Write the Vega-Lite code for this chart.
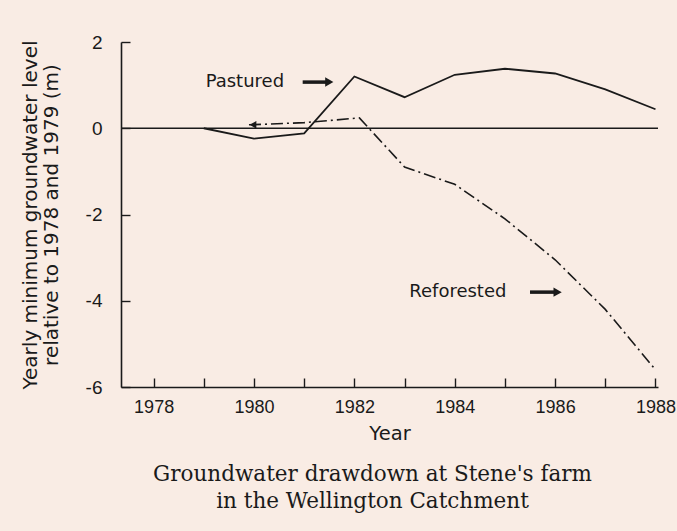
{
  "$schema": "https://vega.github.io/schema/vega-lite/v6.json",
  "autosize": {"type": "none"},
  "width": 537,
  "height": 345,
  "padding": {"left": 121, "top": 42, "right": 19, "bottom": 144},
  "background": "#f9ece4",
  "config": {
    "view": {"stroke": null},
    "font": "DejaVu Sans",
    "axis": {
      "domainColor": "#1a1a1a",
      "tickColor": "#1a1a1a",
      "labelColor": "#1a1a1a",
      "titleColor": "#1a1a1a",
      "labelFont": "Liberation Sans",
      "titleFont": "DejaVu Sans",
      "labelFontSize": 18,
      "titleFontSize": 19.5,
      "titleFontWeight": "normal",
      "grid": false,
      "domainWidth": 1.6,
      "tickWidth": 1.4
    }
  },
  "title": {
    "text": ["Groundwater drawdown at Stene's farm", "in the Wellington Catchment"],
    "orient": "bottom",
    "anchor": "middle",
    "font": "DejaVu Serif",
    "fontSize": 21.5,
    "fontWeight": "normal",
    "color": "#1a1a1a",
    "offset": 21,
    "lineHeight": 27,
    "dx": -17
  },
  "datasets": {
    "series": [
      {"year": 1979, "value": 0, "cover": "Pastured"},
      {"year": 1980, "value": -0.24, "cover": "Pastured"},
      {"year": 1981, "value": -0.12, "cover": "Pastured"},
      {"year": 1982, "value": 1.2, "cover": "Pastured"},
      {"year": 1983, "value": 0.72, "cover": "Pastured"},
      {"year": 1984, "value": 1.24, "cover": "Pastured"},
      {"year": 1985, "value": 1.38, "cover": "Pastured"},
      {"year": 1986, "value": 1.27, "cover": "Pastured"},
      {"year": 1987, "value": 0.9, "cover": "Pastured"},
      {"year": 1988, "value": 0.44, "cover": "Pastured"},
      {"year": 1979.9, "value": 0.08, "cover": "Reforested"},
      {"year": 1981, "value": 0.13, "cover": "Reforested"},
      {"year": 1982.1, "value": 0.24, "cover": "Reforested"},
      {"year": 1983, "value": -0.9, "cover": "Reforested"},
      {"year": 1984, "value": -1.3, "cover": "Reforested"},
      {"year": 1985, "value": -2.1, "cover": "Reforested"},
      {"year": 1986, "value": -3.05, "cover": "Reforested"},
      {"year": 1987, "value": -4.2, "cover": "Reforested"},
      {"year": 1988, "value": -5.6, "cover": "Reforested"}
    ],
    "labels": [
      {"label": "Pastured", "x": 1980.6, "y": 1.07, "ax": 1980.97, "ax2": 1981.5},
      {"label": "Reforested", "x": 1985.03, "y": -3.8, "ax": 1985.5, "ax2": 1986.05}
    ],
    "zero": [{"value": 0}],
    "start": [{"year": 1979.98, "value": 0.08}]
  },
  "encoding": {
    "x": {
      "field": "year", "type": "quantitative",
      "scale": {"domain": [1977.35, 1988.05], "nice": false, "zero": false},
      "axis": {
        "title": "Year",
        "values": [1978, 1979, 1980, 1981, 1982, 1983, 1984, 1985, 1986, 1987, 1988],
        "format": "d",
        "labelExpr": "datum.value % 2 == 0 ? '' + datum.value : ''",
        "tickSize": -9,
        "labelPadding": 20,
        "titlePadding": 8,
        "labelFlush": false,
        "labelOverlap": false
      }
    },
    "y": {
      "field": "value", "type": "quantitative",
      "scale": {"domain": [-6, 2], "nice": false},
      "axis": {
        "title": ["Yearly minimum groundwater level", "relative to 1978 and 1979 (m)"],
        "values": [-6, -4, -2, 0, 2],
        "labelExpr": "'' + datum.value",
        "labelFontSize": 19,
        "tickSize": -9,
        "labelPadding": 28,
        "titlePadding": 24,
        "titleFontSize": 20,
        "titleLineHeight": 21,
        "labelFlush": false
      }
    }
  },
  "layer": [
    {
      "data": {"name": "zero"},
      "mark": {"type": "rule", "color": "#1a1a1a", "strokeWidth": 1.4},
      "encoding": {"y": {"field": "value", "type": "quantitative"}, "x": null}
    },
    {
      "data": {"name": "series"},
      "transform": [{"filter": "datum.cover == 'Pastured'"}],
      "mark": {"type": "line", "color": "#1a1a1a", "strokeWidth": 1.8}
    },
    {
      "data": {"name": "series"},
      "transform": [{"filter": "datum.cover == 'Reforested'"}],
      "mark": {"type": "line", "color": "#1a1a1a", "strokeWidth": 1.6, "strokeDash": [12, 4, 2, 4]}
    },
    {
      "data": {"name": "start"},
      "mark": {"type": "point", "shape": "triangle-left", "filled": true, "color": "#1a1a1a", "size": 60, "opacity": 1}
    },
    {
      "data": {"name": "labels"},
      "mark": {"type": "text", "align": "right", "baseline": "middle", "fontSize": 18, "color": "#1a1a1a", "font": "DejaVu Sans"},
      "encoding": {
        "x": {"field": "x", "type": "quantitative"},
        "y": {"field": "y", "type": "quantitative"},
        "text": {"field": "label"}
      }
    },
    {
      "data": {"name": "labels"},
      "mark": {"type": "rule", "color": "#1a1a1a", "strokeWidth": 3.5},
      "encoding": {
        "x": {"field": "ax", "type": "quantitative"},
        "x2": {"field": "ax2"},
        "y": {"field": "y", "type": "quantitative"}
      }
    },
    {
      "data": {"name": "labels"},
      "mark": {"type": "point", "shape": "triangle-right", "filled": true, "color": "#1a1a1a", "size": 90, "opacity": 1},
      "encoding": {
        "x": {"field": "ax2", "type": "quantitative"},
        "y": {"field": "y", "type": "quantitative"}
      }
    }
  ]
}
